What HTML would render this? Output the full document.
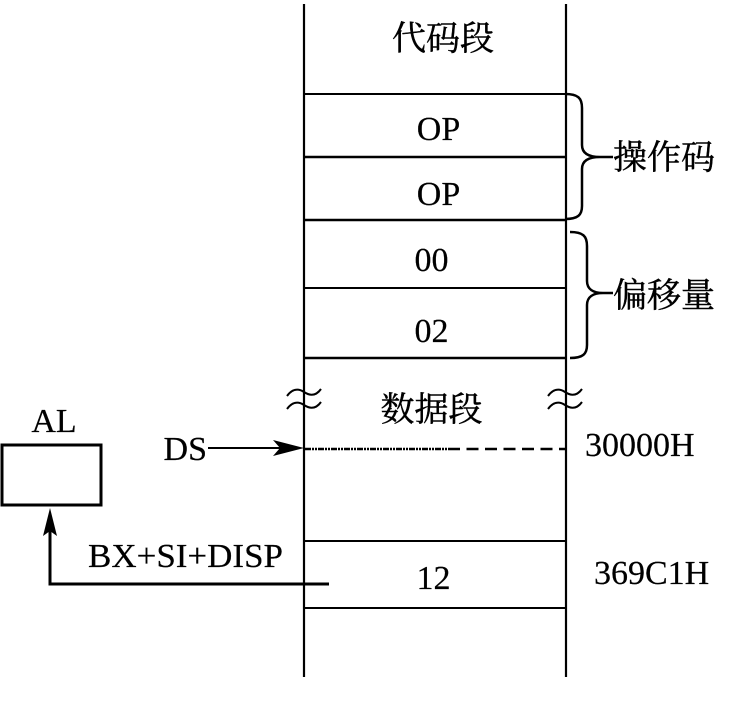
<!DOCTYPE html>
<html>
<head>
<meta charset="utf-8">
<style>
  html, body { margin: 0; padding: 0; background: #fff; }
  svg { display: block; }
  text { font-family: "Liberation Serif", "Noto Serif CJK SC", serif; fill: #000; stroke: #000; stroke-width: 0.2px; }
  text.cjk { stroke-width: 0.45px; }
</style>
</head>
<body>
<svg width="738" height="704" viewBox="0 0 738 704" xmlns="http://www.w3.org/2000/svg">
  <!-- vertical memory column lines -->
  <line x1="304" y1="4" x2="304" y2="677" stroke="#000" stroke-width="2.2"/>
  <line x1="566" y1="4" x2="566" y2="677" stroke="#000" stroke-width="2.2"/>

  <!-- horizontal cell lines (code segment) -->
  <line x1="304" y1="94" x2="566" y2="94" stroke="#000" stroke-width="2"/>
  <line x1="304" y1="157" x2="566" y2="157" stroke="#000" stroke-width="2.5"/>
  <line x1="304" y1="220" x2="566" y2="220" stroke="#000" stroke-width="2.5"/>
  <line x1="304" y1="288" x2="566" y2="288" stroke="#000" stroke-width="2"/>
  <line x1="304" y1="358" x2="566" y2="358" stroke="#000" stroke-width="2.5"/>

  <!-- data segment lines -->
  <line x1="304" y1="541" x2="566" y2="541" stroke="#000" stroke-width="2"/>
  <line x1="304" y1="608" x2="566" y2="608" stroke="#000" stroke-width="2"/>

  <!-- texts in column -->
  <text class="cjk" x="443" y="50" font-size="34" text-anchor="middle">代码段</text>
  <text x="438.5" y="140" font-size="34" text-anchor="middle">OP</text>
  <text x="438.5" y="205" font-size="34" text-anchor="middle">OP</text>
  <text x="431.5" y="271" font-size="34" text-anchor="middle">00</text>
  <text x="431.5" y="342" font-size="34" text-anchor="middle">02</text>
  <text class="cjk" x="431.5" y="421" font-size="34" text-anchor="middle">数据段</text>
  <text x="433.5" y="589" font-size="34" text-anchor="middle">12</text>

  <!-- braces -->
  <path d="M565,94 C578,94 582,98 582,108 L582,145 C582,153 588,157 600,157 L613,157 M600,157 C588,157 582,161 582,169 L582,206 C582,215 578,219 565,219"
        fill="none" stroke="#000" stroke-width="2.5"/>
  <path d="M570,232 C583,232 587,236 587,246 L587,281 C587,289 593,293 603,293 L613,293 M603,293 C593,293 587,297 587,305 L587,345 C587,354 583,358 570,358"
        fill="none" stroke="#000" stroke-width="2.5"/>
  <text class="cjk" x="613" y="169" font-size="34">操作码</text>
  <text class="cjk" x="613" y="307" font-size="34">偏移量</text>

  <!-- break marks -->
  <g fill="none" stroke="#000" stroke-width="2">
    <path d="M287,396 C292,389 298,388 304,392 C310,396 316,396 321,389"/>
    <path d="M287,409 C292,402 298,401 304,405 C310,409 316,409 321,402"/>
    <path d="M548,396 C553,389 559,388 565,392 C571,396 577,396 582,389"/>
    <path d="M548,409 C553,402 559,401 565,405 C571,409 577,409 582,402"/>
  </g>

  <!-- DS arrow -->
  <text x="207" y="460" font-size="34" text-anchor="end">DS</text>
  <line x1="208" y1="448" x2="285" y2="448" stroke="#000" stroke-width="2"/>
  <polygon points="304,448 273,440 280,448 273,456" fill="#000"/>

  <!-- dotted / dashed line at 30000H -->
  <line x1="305" y1="449" x2="447" y2="449" stroke="#000" stroke-width="2.5" stroke-dasharray="6 1 2 1 2 1"/>
  <line x1="448" y1="449" x2="566" y2="449" stroke="#000" stroke-width="2.5" stroke-dasharray="12 6.5"/>

  <text x="585" y="456" font-size="34">30000H</text>
  <text x="594" y="584" font-size="34">369C1H</text>

  <!-- AL box -->
  <text x="54" y="432" font-size="34" text-anchor="middle">AL</text>
  <rect x="2" y="445" width="99" height="60" fill="none" stroke="#000" stroke-width="3"/>

  <!-- BX+SI+DISP arrow -->
  <text x="88" y="567" font-size="34" textLength="195" lengthAdjust="spacingAndGlyphs">BX+SI+DISP</text>
  <polyline points="329,584 50,584 50,530" fill="none" stroke="#000" stroke-width="3"/>
  <polygon points="50,508 43,536 50,531 57,536" fill="#000"/>
</svg>
</body>
</html>
